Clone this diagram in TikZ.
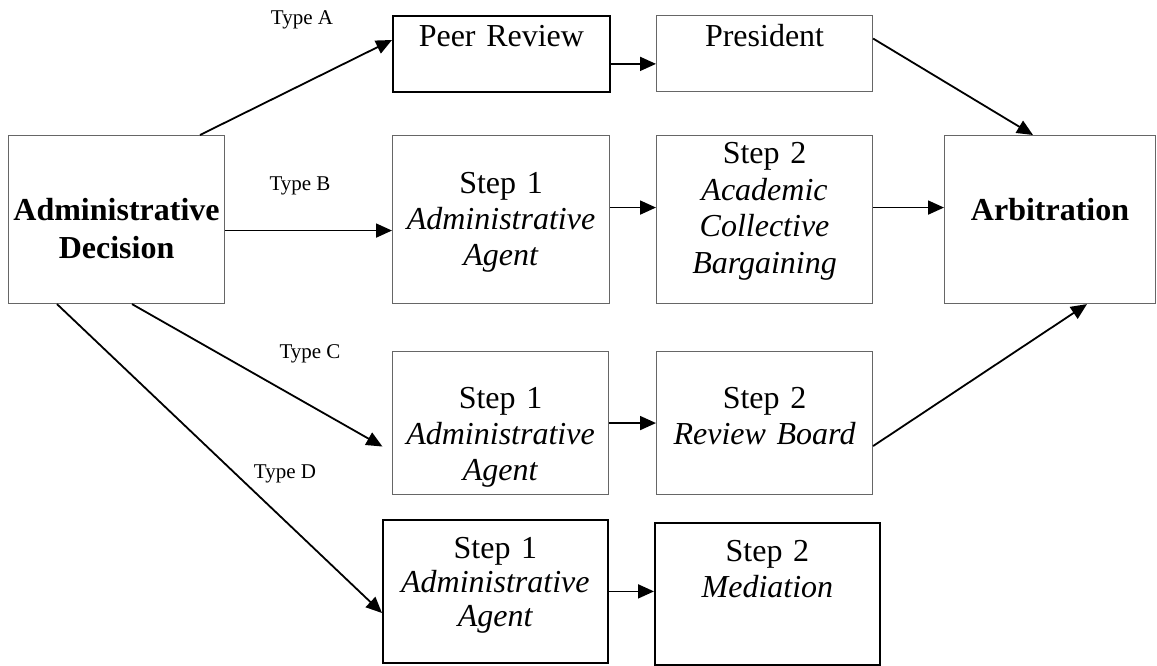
\documentclass[tikz,border=0pt]{standalone}
\usepackage{fontspec}
\setmainfont{Liberation Serif}
\usetikzlibrary{arrows.meta}

\begin{document}
\begin{tikzpicture}[x=1pt, y=-1pt,
        box/.style={draw=black!60, line width=1.1pt, inner sep=0pt, align=center,
            anchor=north west, font=\fontsize{32}{36}\selectfont},
        heavybox/.style={box, draw=black, line width=1.8pt},
        flow/.style={line width=1.8pt, -{Triangle[length=16pt,width=14pt]}},
        kind/.style={anchor=base, font=\fontsize{21}{25}\selectfont}]
        \useasboundingbox (0, 0) rectangle (1157, 666);

        % decision and the end point
        \node[box, text width=216pt, text height=85pt, text depth=83pt,
            font=\fontsize{32}{38}\selectfont\bfseries] (adm) at (8, 135)
            {Administrative\\Decision};
        \node[box, text width=211pt, text height=85pt, text depth=83pt,
            font=\fontsize{32}{36}\selectfont\bfseries] (arb) at (944, 135)
            {Arbitration};

        % type A
        \node[heavybox, text width=217pt, text height=31pt, text depth=45pt] (peer) at (392, 15)
            {Peer Review};
        \node[box, text width=216pt, text height=31pt, text depth=45pt] (pres) at (656, 15)
            {President};

        % type B
        \node[box, text width=217pt, text height=58pt, text depth=110pt] (b1) at (392, 135)
            {Step 1\\\textit{Administrative}\\\textit{Agent}};
        \node[box, text width=216pt, text height=28pt, text depth=140pt,
            font=\fontsize{32}{36.7}\selectfont] (b2) at (656, 135)
            {Step 2\\\textit{Academic}\\\textit{Collective}\\\textit{Bargaining}};

        % type C
        \node[box, text width=216pt, text height=57pt, text depth=86pt] (c1) at (392, 351)
            {Step 1\\\textit{Administrative}\\\textit{Agent}};
        \node[box, text width=216pt, text height=57pt, text depth=86pt] (c2) at (656, 351)
            {Step 2\\\textit{Review Board}};

        % type D
        \node[heavybox, text width=225pt, text height=39pt, text depth=104pt,
            font=\fontsize{32}{34}\selectfont] (d1) at (382, 519)
            {Step 1\\\textit{Administrative}\\\textit{Agent}};
        \node[heavybox, text width=225pt, text height=39pt, text depth=103pt] (d2) at (654, 522)
            {Step 2\\\textit{Mediation}};

        \node[kind] (ta) at (302, 25) {Type A};
        \node[kind] (tb) at (300, 190) {Type B};
        \node[kind] (tc) at (310, 358) {Type C};
        \node[kind] (td) at (285, 478) {Type D};

        \draw[flow] ([xshift=192pt]adm.north west) -- ([yshift=-25pt]peer.north west);
        \draw[flow] ([yshift=-11pt]adm.east) -- ([yshift=-11pt]adm.east -| b1.west);
        \draw[flow, shorten >=11pt] ([xshift=124pt]adm.south west) -- ([yshift=-101pt]c1.north west);
        \draw[flow] ([xshift=49pt]adm.south west) -- ([yshift=-94pt]d1.north west);

        \draw[flow] ([yshift=-10pt]peer.east) -- ([yshift=-10pt]peer.east -| pres.west);
        \draw[flow] ([yshift=15pt]pres.east) -- ([xshift=89pt]arb.north west);
        \draw[flow] ([yshift=12pt]b1.east) -- ([yshift=12pt]b1.east -| b2.west);
        \draw[flow] ([yshift=12pt]b2.east) -- ([yshift=12pt]b2.east -| arb.west);
        \draw[flow] (c1.east) -- (c1.east -| c2.west);
        \draw[flow] ([yshift=-23pt]c2.east) -- ([xshift=143pt]arb.south west);
        \draw[flow] (d1.east) -- (d1.east -| d2.west);
    \end{tikzpicture}
\end{document}
